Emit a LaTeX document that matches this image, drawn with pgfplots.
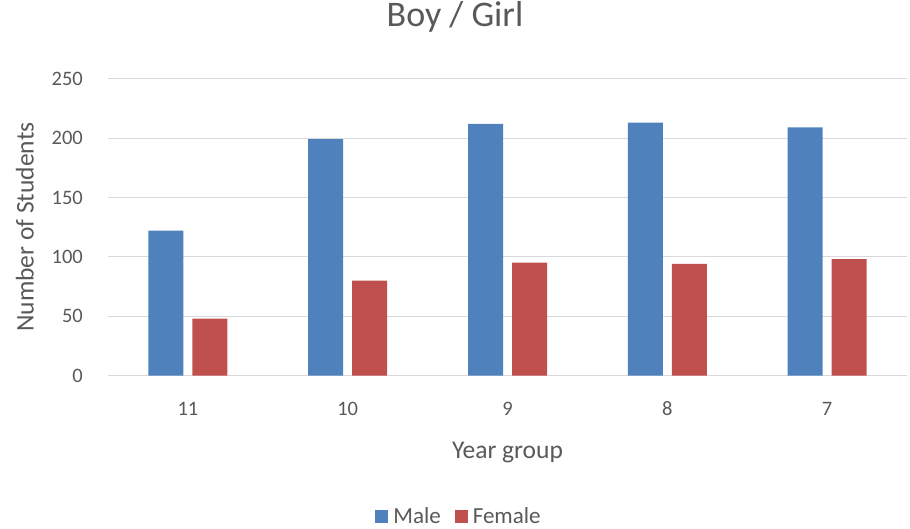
\documentclass[border=0pt]{standalone}
\usepackage{pgfplots}
\pgfplotsset{compat=1.18}
\usepackage{fontspec}
\setmainfont{Carlito}
\definecolor{mblue}{HTML}{4F81BD}
\definecolor{mred}{HTML}{C0504D}
\definecolor{gridc}{HTML}{D9D9D9}
\definecolor{txt}{HTML}{595959}
\begin{document}
\begin{tikzpicture}
\path[use as bounding box] (0,0) rectangle (910pt,528pt);
\begin{axis}[
  at={(108pt,152.5pt)}, anchor=south west,
  scale only axis, width=799pt, height=296.8pt,
  ybar=9pt, bar width=35pt,
  xmin=-0.5, xmax=4.5, ymin=0, ymax=250,
  xtick=data, xticklabels={11,10,9,8,7},
  ytick={0,50,...,250},
  ymajorgrids, grid style={gridc, line width=1pt},
  axis line style={draw=none},
  major tick length=0pt,
  /pgf/number format/assume math mode=true,
  ticklabel style={font=\fontsize{20.5}{24}\selectfont, text=txt},
  xticklabel style={anchor=base, yshift=-39.5pt},
  yticklabel style={anchor=east, inner sep=0pt, xshift=-25pt},
  title={Boy / Girl},
  title style={at={(axis description cs:0.4343,1)}, anchor=base, yshift=46.3pt, font=\fontsize{36}{42}\selectfont, text=txt},
  xlabel={Year group},
  xlabel style={at={(axis description cs:0.5,0)}, anchor=base, yshift=-82.5pt, font=\fontsize{25.5}{30}\selectfont, text=txt},
  ylabel={Number of Students},
  ylabel style={at={(axis description cs:-0.1039,0.5)}, anchor=center, font=\fontsize{25.5}{30}\selectfont, text=txt},
  legend columns=2,
  legend style={at={(axis description cs:0.4393,-0.4734)}, anchor=center, draw=none, fill=none,
    font=\fontsize{23}{27}\selectfont, text=txt,
    /tikz/every even column/.append style={column sep=12pt},
    /tikz/every odd column/.append style={column sep=3pt}},
  legend image code/.code={\fill[#1] (0pt,-6.5pt) rectangle (13pt,6.5pt);},
]
\addplot[fill=mblue, draw=none] coordinates {(0,122) (1,199) (2,212) (3,213) (4,209)};
\addplot[fill=mred, draw=none] coordinates {(0,48) (1,80) (2,95) (3,94) (4,98)};
\legend{Male, Female}
\end{axis}
\end{tikzpicture}
\end{document}
